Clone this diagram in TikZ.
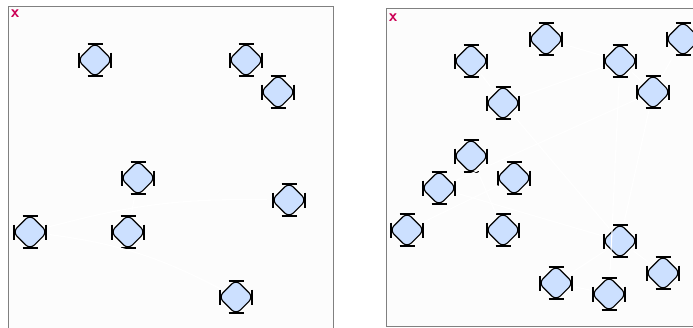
\documentclass[tikz,border=0pt]{standalone}
\usetikzlibrary{shapes.geometric}
\definecolor{agentfill}{RGB}{204,224,255}
\definecolor{markred}{RGB}{204,0,85}
\begin{document}
\begin{tikzpicture}[x=1pt, y=-1pt,
	   agent/.style={diamond, draw, line width=1.1pt, fill=agentfill, rounded corners=6pt, minimum size=35pt, inner sep=0pt},
	   bar/.style={line width=1.6pt},
	   panel/.style={draw=black!50, line width=0.8pt, fill=black!1},
	   trail/.style={white, line width=1.1pt, shorten >=4pt, shorten <=4pt},
	   xmark/.style={text=markred, font=\fontsize{17}{17}\selectfont\sffamily\bfseries, inner sep=0pt}]
	  \useasboundingbox (0,0) rectangle (693,327);
	  % the two arenas
	  \draw[panel] (8,6) rectangle (333,335);
	  \draw[panel] (386,8) rectangle (700,326);
	  \node[xmark] (xl) at (15,14) {x};
	  \node[xmark] (xr) at (393,18) {x};
	  % left arena
	  \node[agent] (l1) at (95,60) {};
	  \node[agent] (l2) at (246,60) {};
	  \node[agent] (l3) at (278,92) {};
	  \node[agent] (l4) at (138,178) {};
	  \node[agent] (l5) at (289,200) {};
	  \node[agent] (l6) at (30,232) {};
	  \node[agent] (l7) at (128,232) {};
	  \node[agent] (l8) at (236,297) {};
	  % right arena
	  \node[agent] (r1) at (546,39) {};
	  \node[agent] (r2) at (683,39) {};
	  \node[agent] (r3) at (471,61) {};
	  \node[agent] (r4) at (620,61) {};
	  \node[agent] (r5) at (503,103) {};
	  \node[agent] (r6) at (653,92) {};
	  \node[agent] (r7) at (471,156) {};
	  \node[agent] (r8) at (439,188) {};
	  \node[agent] (r9) at (514,178) {};
	  \node[agent] (r10) at (407,230) {};
	  \node[agent] (r11) at (503,230) {};
	  \node[agent] (r12) at (620,241) {};
	  \node[agent] (r13) at (663,273) {};
	  \node[agent] (r14) at (556,283) {};
	  \node[agent] (r15) at (609,294) {};
	  \foreach \a in {l1,l2,l3,l4,l5,l6,l7,l8,r1,r2,r3,r4,r5,r6,r7,r8,r9,r10,r11,r12,r13,r14,r15} {
	    \draw[bar] ([shift={(-7.5,-16)}]\a.center) -- ([shift={(7.5,-16)}]\a.center);
	    \draw[bar] ([shift={(-7.5,16)}]\a.center) -- ([shift={(7.5,16)}]\a.center);
	    \draw[bar] ([shift={(-16,-7.5)}]\a.center) -- ([shift={(-16,7.5)}]\a.center);
	    \draw[bar] ([shift={(16,-7.5)}]\a.center) -- ([shift={(16,7.5)}]\a.center);
	  }
	  % faint trails
	  \draw[trail] (l6) to[bend left=8] (l5);
	  \draw[trail] (l6) to[bend left=10] (l8);
	  \draw[trail] (l7) -- (l4);
	  \draw[trail] (r3) -- (r5);
	  \draw[trail] (r5) -- (r12);
	  \draw[trail] (r1) -- (r4);
	  \draw[trail] (r4) -- (r6);
	  \draw[trail] (r2) -- (r6);
	  \draw[trail] (r6) -- (r12);
	  \draw[trail] (r4) -- (r15);
	  \draw[trail] (r12) -- (r13);
	  \draw[trail] (r14) -- (r15);
	  \draw[trail] (r12) -- (r14);
	  \draw[trail] (r10) -- (r9);
	  \draw[trail] (r8) -- (r12);
	  \draw[trail] (r7) -- (r11);
	  \draw[trail] (r5) -- (r4);
	  \draw[trail] (r8) -- (r6);
	\end{tikzpicture}
\end{document}
